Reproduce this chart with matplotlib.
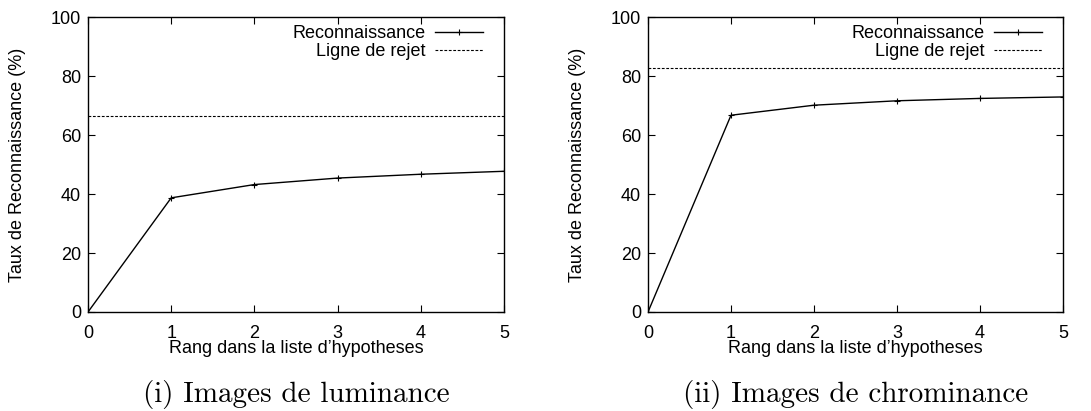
import matplotlib.pyplot as plt

rangs = [0, 1, 2, 3, 4, 5]
reco_lum = [0, 38.7, 43.2, 45.4, 46.7, 47.7]
rejet_lum = 66.5
reco_chr = [0, 66.7, 70.1, 71.6, 72.4, 72.9]
rejet_chr = 82.7
captions = ["(i) Images de luminance", "(ii) Images de chrominance"]

plt.rcParams["font.family"] = ["Liberation Sans", "DejaVu Sans"]
plt.rcParams["font.size"] = 13

fig = plt.figure(figsize=(10.91, 4.11), dpi=100)
W, H = 1091, 411
boxes = [(88, 17, 504, 312), (648, 17, 1063, 312)]

for (x0, y0, x1, y1), reco, rejet, cap in zip(boxes, [reco_lum, reco_chr], [rejet_lum, rejet_chr], captions):
    ax = fig.add_axes([x0 / W, 1 - y1 / H, (x1 - x0) / W, (y1 - y0) / H])
    ax.plot(rangs, reco, color="black", lw=1, marker="+", ms=4, mew=0.8, label="Reconnaissance")
    ax.axhline(rejet, color="black", lw=0.8, ls=(0, (2.5, 1.5)), label="Ligne de rejet")
    ax.set_xlim(0, 5); ax.set_ylim(0, 100)
    ax.set_xticks(rangs); ax.set_yticks(range(0, 101, 20))
    ax.tick_params(direction="in", top=True, right=True, length=5, width=0.8)
    ax.tick_params(axis="x", pad=9)
    ax.tick_params(axis="y", pad=5)
    ax.set_xlabel("Rang dans la liste d\u2019hypotheses", labelpad=-1)
    ax.set_ylabel("Taux de Reconnaissance (%)", labelpad=18)
    ax.legend(loc="upper right", frameon=False, markerfirst=False, handlelength=2.7,
              handletextpad=0.5, borderaxespad=0.05, labelspacing=0.05, fontsize=13,
              bbox_to_anchor=(0.97, 1.0))
    for s in ax.spines.values(): s.set_linewidth(1)
    fig.text((x0 + x1) / 2 / W, 1 - 394 / H, cap, ha="center", va="center",
             family=["cmr10", "DejaVu Serif"], fontsize=21)

fig.savefig("out.png", dpi=100)
